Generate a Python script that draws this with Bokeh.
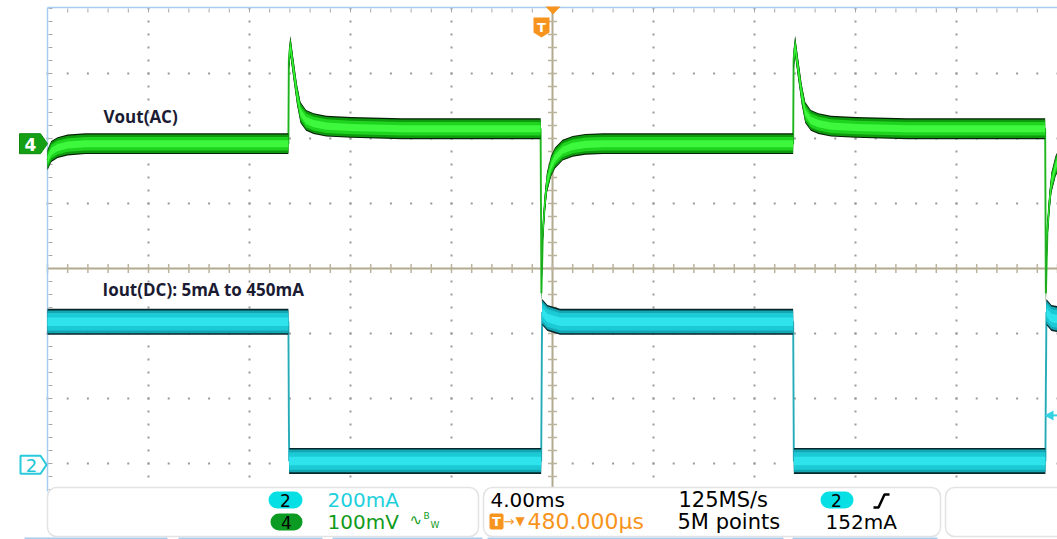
import numpy as np
from bokeh.plotting import figure
from bokeh.models import BoxAnnotation, Label, Range1d
from bokeh.embed import file_html
from bokeh.resources import INLINE

# ------------------------------------------------------------------
# Data (time in ms, 0 = screen centre)
# ------------------------------------------------------------------
# Channel 4: Vout, AC coupled (mV)
vout_t = [-20.00, -19.85, -19.60, -19.20, -18.50, -10.46, -10.44, -10.38, -10.26, -10.12,
          -9.98, -9.76, -9.46, -8.96, -7.96, -5.96, -0.47, -0.44, -0.38, -0.30,
          -0.22, -0.06, 0.10, 0.40, 0.80, 1.30, 2.00, 9.53, 9.55, 9.61,
          9.73, 9.87, 10.01, 10.23, 10.53, 11.03, 12.03, 14.03, 19.51, 19.54,
          19.60, 19.68, 19.76, 19.92, 20.00]
vout_mv = [-25, -12, -6, -2, 0, 0, 130, 150, 115, 76,
           48, 36, 31, 27, 25, 23, 23, -230, -135, -90,
           -60, -35, -22, -10, -4, -1, 0, 0, 130, 150,
           115, 76, 48, 36, 31, 27, 25, 23, 23, -230,
           -135, -90, -60, -35, -28]
# Channel 2: Iout, DC coupled (mA)
iout_t = [-20.00, -10.46, -10.43, -0.45, -0.41, -0.20, 0.30, 9.53, 9.56, 19.52, 19.56, 19.76, 20.00]
iout_ma = [440, 440, 12, 12, 470, 452, 440, 440, 12, 12, 470, 452, 448]

# scope settings
time_per_div = 4.0     # ms/div
ch4_scale = 100.0      # mV/div
ch2_scale = 200.0      # mA/div
ch4_offset = 1.92      # div
ch2_offset = -3.02     # div
trig_level = 152.0     # mA
n_hdiv, n_vdiv = 10, 8

# ------------------------------------------------------------------
PXD_X = 101.0 / time_per_div   # px per ms
PXD_Y = 65.0                   # px per div
CX, CY = 552.0, 268.0          # image pixel of screen centre


def tx(xi):
    return (xi - CX) / PXD_X


def dy(yi):
    return (CY - yi) / PXD_Y


W, H = 1057, 539
p = figure(width=W, height=H, output_backend="svg", toolbar_location=None,
           x_range=Range1d(tx(0), tx(W)), y_range=Range1d(dy(H), dy(0)),
           min_border=0, x_axis_location=None, y_axis_location=None)
p.grid.visible = False
p.outline_line_color = None
p.background_fill_color = "white"
p.border_fill_color = "white"

half_t = n_hdiv / 2 * time_per_div
half_d = n_vdiv / 2
minor_t = np.arange(-half_t, half_t + 1e-6, time_per_div / 5)
minor_d = np.arange(-half_d, half_d + 1e-6, 0.2)

# graticule dots
gx, gy = [], []
for k in range(1, n_hdiv):
    t = -half_t + time_per_div * k
    if abs(t) < 1e-9:
        continue
    for d in minor_d:
        gx.append(t); gy.append(d)
for j in range(1, n_vdiv):
    d = -half_d + j
    if abs(d) < 1e-9:
        continue
    for t in minor_t:
        gx.append(t); gy.append(d)
p.scatter(gx, gy, marker="square", size=2, fill_color="#9a9a9a", line_color=None)

# edge ticks (top and left)
p.segment(x0=minor_t, y0=[dy(8)] * len(minor_t), x1=minor_t, y1=[dy(12)] * len(minor_t),
          line_color="#a8a8a8", line_width=1)
p.segment(x0=[tx(48)] * len(minor_d), y0=minor_d, x1=[tx(52)] * len(minor_d), y1=minor_d,
          line_color="#a8a8a8", line_width=1)

# centre cross
tan = "#b2a98f"
p.segment(x0=[-half_t], y0=[0], x1=[half_t], y1=[0], line_color=tan, line_width=2)
p.segment(x0=[0], y0=[half_d], x1=[0], y1=[-half_d], line_color=tan, line_width=2)
p.segment(x0=minor_t, y0=[-0.07] * len(minor_t), x1=minor_t, y1=[0.07] * len(minor_t),
          line_color="#bcb39d", line_width=1.5)
p.segment(x0=[-0.18] * len(minor_d), y0=minor_d, x1=[0.18] * len(minor_d), y1=minor_d,
          line_color="#bcb39d", line_width=1.5)

# light blue frame
blue = "#a6cdef"
p.segment(x0=[-half_t], y0=[dy(7)], x1=[-half_t], y1=[dy(491)], line_color=blue, line_width=1.5)
p.segment(x0=[-half_t], y0=[dy(7)], x1=[tx(1060)], y1=[dy(7)], line_color=blue, line_width=1.5)
for a, b in [(24, 167), (178, 322), (332, 482), (487, 783), (792, 937)]:
    p.segment(x0=[tx(a)], y0=[dy(538)], x1=[tx(b)], y1=[dy(538)], line_color=blue, line_width=2)

# ---- traces ----
v_d = ch4_offset + np.array(vout_mv, dtype=float) / ch4_scale
p.line(vout_t, v_d, line_color="#2cc22c", line_width=2)
for hw, col in [(16, "#052005"), (14.2, "#0e990e"), (10.5, "#1fd41f"), (5.5, "#3ef83e")]:
    p.varea(x=vout_t, y1=v_d - hw / ch4_scale, y2=v_d + hw / ch4_scale, fill_color=col)

i_d = ch2_offset + np.array(iout_ma, dtype=float) / ch2_scale
p.line(iout_t, i_d, line_color="#38b8c4", line_width=2)
for hw, col in [(40, "#07282b"), (35, "#14a6b2"), (27, "#1ccad5"), (13, "#2ee3ec")]:
    p.varea(x=iout_t, y1=i_d - hw / ch2_scale, y2=i_d + hw / ch2_scale, fill_color=col)

# trigger level arrow (right edge)
tl = ch2_offset + trig_level / ch2_scale
tly = CY - tl * PXD_Y
p.patch([tx(1044), tx(1053), tx(1053)], [tl, dy(tly - 5), dy(tly + 5)], fill_color="#33d3e3", line_color=None)
p.segment(x0=[tx(1050)], y0=[tl], x1=[tx(1060)], y1=[tl], line_color="#33d3e3", line_width=2)

# channel markers
m4y = CY - ch4_offset * PXD_Y
p.patch([tx(19), tx(40), tx(47), tx(40), tx(19)],
        [dy(m4y - 10), dy(m4y - 10), dy(m4y), dy(m4y + 10), dy(m4y + 10)],
        fill_color="#159f15", line_color="#0e8a0e", line_width=1)
m2y = CY - ch2_offset * PXD_Y
p.patch([tx(20), tx(40), tx(46), tx(40), tx(20)],
        [dy(m2y - 9), dy(m2y - 9), dy(m2y), dy(m2y + 9), dy(m2y + 9)],
        fill_color="white", line_color="#27cbdb", line_width=2)

# trigger markers on top
orange = "#f7941d"
p.patch([tx(545), tx(560), tx(552.5)], [dy(6), dy(6), dy(14)], fill_color=orange, line_color=None)
p.patch([tx(533), tx(549), tx(549), tx(541), tx(533)], [dy(17), dy(17), dy(32), dy(37), dy(32)],
        fill_color=orange, line_color=None)


def lab(x, y, text, color, size, font="DejaVu Sans", style="normal", align="left"):
    p.add_layout(Label(x=tx(x), y=dy(y), text=text, text_color=color, text_font_size=f"{size}px",
                       text_font=font, text_font_style=style, text_align=align,
                       text_baseline="middle"))


lab(30, m4y + 1, "4", "white", 17, style="bold", align="center")
lab(31, m2y + 1, "2", "#22c6d6", 18, align="center")
lab(541, 27, "T", "white", 13, style="bold", align="center")

# trace labels
lab(103, 116, "Vout(AC)", "#1b1b33", 17, font="Open Sans", style="bold")
lab(102, 289, "Iout(DC): 5mA to 450mA", "#1b1b33", 17, font="Open Sans", style="bold")

# ---- status bar ----
def box(x0, x1, y0, y1, fill, line, radius, lw=1.5):
    p.add_layout(BoxAnnotation(left=tx(x0), right=tx(x1), top=dy(y0), bottom=dy(y1),
                               fill_color=fill, fill_alpha=1, line_color=line, line_alpha=1,
                               line_width=lw, border_radius=radius))


box(47, 478, 487, 536, "white", "#e3e3e3", 9)
box(483, 940, 487, 536, "white", "#e3e3e3", 9)
box(945, 1080, 487, 536, "white", "#e3e3e3", 9)
box(268, 302, 491, 508, "#06dfe3", None, 9, 0)
box(270, 302, 513, 530, "#0b9b22", None, 9, 0)
box(820, 853, 491, 508, "#06dfe3", None, 9, 0)
box(489, 503, 513, 529, orange, None, 2, 0)

cyan_txt = "#1ed0dc"
green_txt = "#119b1b"
lab(285, 500, "2", "black", 17, align="center")
lab(286, 522, "4", "black", 17, align="center")
lab(327, 499, "200mA", cyan_txt, 20)
lab(327, 521, "100mV", green_txt, 20)
lab(409, 519, "∿", green_txt, 15)
lab(423, 515, "B", green_txt, 9)
lab(430, 524, "W", green_txt, 9)
lab(490, 499, "4.00ms", "black", 20)
lab(496, 521, "T", "white", 13, style="bold", align="center")
lab(503, 521, "→", orange, 13)
lab(515, 520, "▼", orange, 12)
lab(527, 521, "480.000µs", orange, 22)
lab(678, 499, "125MS/s", "black", 21)
lab(677, 521, "5M points", "black", 21)
lab(836, 500, "2", "black", 17, align="center")
lab(825, 521, "152mA", "black", 20)
# rising-edge trigger slope symbol (drawn above the status boxes)
p.line([tx(873), tx(878), tx(884), tx(889)], [dy(507), dy(507), dy(494), dy(494)],
       line_color="black", line_width=2.5, level="overlay")

open("out.html", "w").write(file_html(p, INLINE))
